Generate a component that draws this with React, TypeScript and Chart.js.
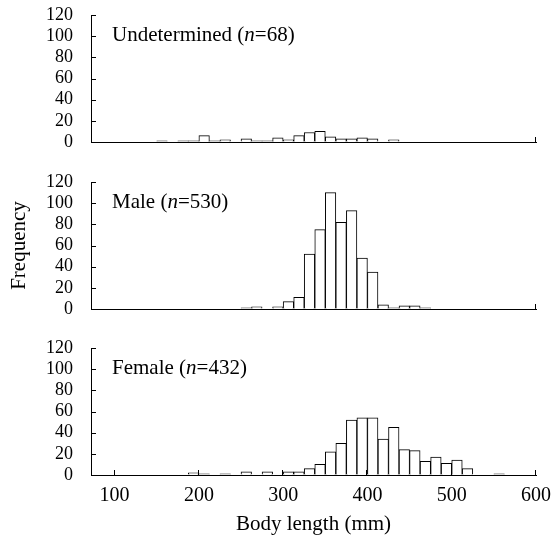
import React, { useEffect, useRef } from "react";
import { Chart, registerables } from "chart.js";

Chart.register(...registerables);

// Lower edges of the 12.5 mm body-length bins
const binEdges = [
  150, 162.5, 175, 187.5, 200, 212.5, 225, 237.5, 250, 262.5, 275, 287.5,
  300, 312.5, 325, 337.5, 350, 362.5, 375, 387.5, 400, 412.5, 425, 437.5,
  450, 462.5, 475, 487.5, 500, 512.5, 525, 537.5, 550,
];
const binWidth = 12.5;

const undetermined = [
  1, 0, 1, 1, 6, 1, 2, 0, 3, 1, 1, 4, 2, 6, 9, 10, 5, 3, 3, 4, 3, 0, 2, 0,
  0, 0, 0, 0, 0, 0, 0, 0, 0,
];
const male = [
  0, 0, 0, 0, 0, 0, 0, 0, 1, 2, 0, 2, 7, 11, 52, 75, 110, 82, 93, 48, 35, 4,
  1, 3, 3, 1, 0, 0, 0, 0, 0, 0, 0,
];
const female = [
  0, 0, 0, 2, 1, 0, 1, 0, 3, 0, 3, 0, 3, 3, 6, 10, 22, 30, 52, 54, 54, 34,
  45, 24, 23, 13, 17, 11, 14, 6, 0, 0, 1,
];

const panelNames = ["Undetermined", "Male", "Female"];
const panelN = [68, 530, 432];
const panelSeries = [undetermined, male, female];

const xTicks = [100, 200, 300, 400, 500, 600];
const yTicks = [0, 20, 40, 60, 80, 100, 120];
const xTitle = "Body length (mm)";
const yTitle = "Frequency";

const FONT = '"Liberation Serif", "Times New Roman", serif';

const decorPlugin = {
  id: "decor",
  afterDraw(chart: any, _args: any, opts: any) {
    const { ctx, chartArea, scales } = chart;
    const x = scales.x;
    const y = scales.y;
    ctx.save();
    ctx.strokeStyle = "#000";
    ctx.lineWidth = 1;
    ctx.beginPath();
    yTicks.forEach((v) => {
      if (v === 0) return;
      const py = Math.round(y.getPixelForValue(v)) + 0.5;
      ctx.moveTo(chartArea.left, py);
      ctx.lineTo(chartArea.left + 5, py);
    });
    const xt = opts.allTicks ? xTicks : [xTicks[xTicks.length - 1]];
    xt.forEach((v) => {
      const px = Math.round(x.getPixelForValue(v)) - 0.5;
      ctx.moveTo(px, chartArea.bottom);
      ctx.lineTo(px, chartArea.bottom - 5);
    });
    ctx.stroke();

    ctx.fillStyle = "#000";
    ctx.textBaseline = "alphabetic";
    ctx.textAlign = "left";
    let tx = chartArea.left + 21;
    const ty = chartArea.top + 26;
    const parts: [string, boolean][] = [
      [opts.name + " (", false],
      ["n", true],
      ["=" + opts.n + ")", false],
    ];
    parts.forEach(([t, it]) => {
      ctx.font = (it ? "italic " : "") + "21px " + FONT;
      ctx.fillText(t, tx, ty);
      tx += ctx.measureText(t).width;
    });
    ctx.restore();
  },
};

function makeConfig(i: number): any {
  const series = panelSeries[i];
  const isBottom = i === 2;
  const isMiddle = i === 1;
  return {
    type: "bar",
    data: {
      datasets: [
        {
          data: binEdges.map((e, k) => ({
            x: e + binWidth / 2,
            y: series[k] === 0 ? null : series[k],
          })),
          backgroundColor: "#ffffff",
          borderColor: "#000000",
          borderWidth: 1,
          borderSkipped: "start",
          barPercentage: 1,
          categoryPercentage: 1,
        },
      ],
    },
    options: {
      animation: false,
      responsive: false,
      devicePixelRatio: 1,
      layout: {
        padding: { top: 15, left: 0, right: 16, bottom: isBottom ? 0 : 12 },
      },
      plugins: {
        legend: { display: false },
        tooltip: { enabled: false },
        decor: { name: panelNames[i], n: panelN[i], allTicks: isBottom },
      },
      scales: {
        x: {
          type: "linear",
          min: 72,
          max: 600,
          offset: false,
          grid: {
            display: true,
            drawOnChartArea: false,
            drawTicks: true,
            tickLength: 9,
            color: "rgba(0,0,0,0)",
            offset: false,
          },
          border: { display: true, color: "#000", width: 1 },
          afterBuildTicks: (s: any) => {
            s.ticks = xTicks.map((v) => ({ value: v }));
          },
          afterFit: (s: any) => {
            s.height = isBottom ? 70 : 0;
          },
          ticks: {
            display: isBottom,
            color: "#000",
            padding: 0,
            maxRotation: 0,
            autoSkip: false,
            font: { family: FONT, size: 20 },
          },
          title: {
            display: isBottom,
            text: xTitle,
            color: "#000",
            font: { family: FONT, size: 21 },
            padding: { top: 0, bottom: 8 },
          },
        },
        y: {
          type: "linear",
          min: 0,
          max: 120,
          grid: {
            display: true,
            drawOnChartArea: false,
            drawTicks: true,
            tickLength: 18,
            color: "rgba(0,0,0,0)",
          },
          border: { display: true, color: "#000", width: 1 },
          afterBuildTicks: (s: any) => {
            s.ticks = yTicks.map((v) => ({ value: v }));
          },
          afterFit: (s: any) => {
            s.width = 91;
          },
          ticks: {
            color: "#000",
            padding: 0,
            autoSkip: false,
            font: { family: FONT, size: 18 },
          },
          title: {
            display: isMiddle,
            text: yTitle,
            color: "#000",
            font: { family: FONT, size: 21 },
            padding: { top: 7, bottom: 0 },
          },
        },
      },
    },
    plugins: [decorPlugin],
  };
}

export default function App() {
  const r0 = useRef<HTMLCanvasElement>(null);
  const r1 = useRef<HTMLCanvasElement>(null);
  const r2 = useRef<HTMLCanvasElement>(null);

  useEffect(() => {
    const refs = [r0, r1, r2];
    const charts = refs.map((r, i) => new Chart(r.current as HTMLCanvasElement, makeConfig(i)));
    return () => charts.forEach((c) => c.destroy());
  }, []);

  return (
    <div
      style={{
        position: "absolute",
        left: 0,
        top: 0,
        width: 552,
        height: 545,
        background: "#fff",
      }}
    >
      <canvas ref={r0} width={552} height={154} style={{ position: "absolute", left: 0, top: 0 }} />
      <canvas ref={r1} width={552} height={154} style={{ position: "absolute", left: 0, top: 167 }} />
      <canvas ref={r2} width={552} height={212} style={{ position: "absolute", left: 0, top: 333 }} />
    </div>
  );
}
